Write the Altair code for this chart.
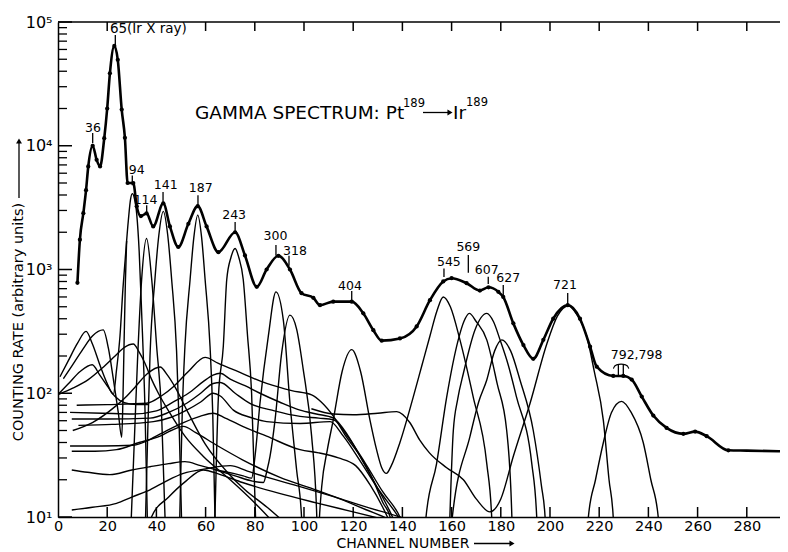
import altair as alt
import pandas as pd

# ---------------- data ----------------
# main measured spectrum (channel, counting rate)
main = [(7.9,780),(8.9,1740),(10.3,2850),(11.4,4370),(12.3,6800),(14.1,10000),(15.7,7700),(17.1,6800),
        (18.8,11500),(20.0,20000),(21.1,38500),(22.9,64000),(24.3,49500),(25.9,19600),(27.2,11600),
        (28.3,5000),(30.6,5000),(32.0,3250),(33.7,2700),(36.0,2840),(38.7,2230),(42.8,3430),(45.5,2230),
        (48.9,1520),(53.0,2340),(56.8,3250),(60.4,2230),(65.2,1380),(72.0,2000),(76.0,1300),(80.8,725),
        (84.8,1000),(89.6,1290),(94.3,1000),(99.0,643),(103.8,590),(106.5,515),(111.9,550),(119.4,550),
        (124.1,443),(128.2,323),(131.6,266),(139.0,277),(145.8,347),(151.2,565),(156.6,800),(160.0,850),
        (166.1,775),(171.5,675),(175.0,718),(179.0,660),(181.0,600),(185.1,367),(189.2,245),(193.2,190),
        (197.3,270),(201.3,400),(207.2,515),(212.2,400),(216.3,238),(219.0,164),(225.7,138),(229.8,138),
        (233.2,129),(237.3,94),(242.0,66),(247.4,52.5),(254.2,47),(259.0,49),(263.7,45),(272.5,34.6),
        (280.0,34.4),(293.5,34)]

# resolved components
cA = [(0.8,136),(4,180),(8,255),(11.4,316),(14,250),(17,170),(20,120),(22.5,98),(23.8,155),(25.2,290),
      (26.4,700),(27.3,1200),(28.6,2500),(29.5,3700),(30.2,4100),(31,3800),(32,2800),(33,1400),(34,450),
      (35.4,69),(36.3,10),(36.8,4)]
cB = [(2.2,131),(6,170),(10,225),(14,290),(18.4,325),(20.5,230),(22.5,130),(24.5,70),(25.9,44),
      (26.4,90),(26.9,280),(27.4,800),(27.9,1700)]
cC = [(0.3,98),(6,110),(12.3,129),(18,160),(23.2,200),(27,235),(30.6,250),(33,215),(35.4,174),(38,130),
      (40.8,100),(45.5,69),(51.6,45),(59,31),(70,20),(80,13),(90,8)]
cD = [(0.5,100),(4,118),(9,150),(13.9,170),(17,140),(20,115),(23,95),(27,84),(32,81),(37,81)]
cE = [(6,50),(14,58),(23.2,78),(28,95),(31.3,112),(36.5,145),(41.5,163),(44.5,140),(47.6,112),(53,69),
      (59.8,39),(69.2,22.6),(76,16.6),(85,12),(95,8)]
c4 = [(7.6,80),(20,81),(36,83),(42,95),(46.9,113),(53,150),(59.8,195),(65,175),(71.3,155),(84.8,120),
      (95,105),(103.1,97),(107,85),(112,65),(117,45),(122.8,31),(128,20),(132.2,12.9),(135,10),(136,8)]
c5 = [(4.9,70),(18,69),(30.6,68),(40,72),(46.9,85),(53,100),(59,124),(63,140),(65.9,145),(70,130),
      (76,115),(82.1,100),(90,85),(98.4,73),(105,68),(112,63),(118,45),(124,28),(130,17),(135,11),(137,9)]
c6 = [(5.6,62),(20,62),(37.4,63),(45,70),(52.3,83),(58,100),(63.1,120),(66,122),(72,100),(78,83),
      (88,72),(98.4,65),(106,63),(112,61),(118,44),(125,27),(132,16),(139,10),(141,8)]
c7 = [(8.3,55),(22,56),(38.8,59),(46,64),(52.3,73),(58,85),(63.1,100),(66,95),(71.3,73),(78,64),
      (84.8,59),(98.4,57),(110.6,59),(116,45),(123,28),(130,17),(137,11),(140,9)]
c8 = [(4.9,37.5),(18,37.5),(30.6,38),(38,43),(44.2,50),(51,58),(57.7,65),(63.1,69),(68,63),(76,53),
      (84.8,45),(98.4,35),(106,33),(114,30),(121,26),(127,18),(132,12),(135,9)]
c9 = [(5.6,34),(15,34),(23.8,35),(33,40),(41.5,45),(46,50),(51,54),(56,48),(64.5,38),(75,29),(90,21),
      (105,16.5),(114.6,14),(125,11.5),(135,9.5),(142,8)]
c300 = [(5.6,24),(12,23),(21.1,22),(30,24),(37.4,25.5),(45,27),(51.6,28),(58,26),(64.5,24),(71.3,22.5),
        (75.3,21.5),(78.7,20.6),(80.1,31),(82.1,83),(85.5,290),(88.6,660),(91.6,390),(94.3,83),(97,24),
        (99,10),(99.5,4)]
c11 = [(5.6,11.4),(14,12),(23.8,12.9),(30,14.5),(37.4,16.6),(44,19.5),(51,22.5),(60,24.5),(70,26),
       (77,23.5),(84.8,21),(98.4,17.6),(112,14.6),(125.5,12),(139,10),(145,9)]
c12 = [(37,8),(38,10),(45,14.5),(52,19.5),(59,24),(66,22),(75,19),(90,15.5),(105,13),(120,11),(133,9.5)]
c318 = [(64,24),(72,21.5),(79,19.5),(83.5,19),(85,24),(86.2,31),(88.2,60),(90.9,210),(94.3,428),
        (97,330),(99.7,155),(103.1,45),(105.2,10),(105.7,4)]
p114 = [(29,4),(29.8,10),(31,40),(32.3,180),(34,830),(36,1780),(38.1,830),(40.1,240),(42.1,69),(43.5,10),(44,4)]
p141 = [(35,4),(35.6,10),(36.5,50),(37.4,200),(39.4,830),(41,1900),(42.8,2950),(44.6,1900),(46.2,830),
        (48.2,220),(49.2,60),(50.2,10),(50.8,4)]
p187 = [(49,4),(49.5,10),(50.5,69),(51.6,240),(53.7,830),(55.2,1800),(56.8,2750),(58.4,1800),(59.8,830),
        (61.8,240),(62.9,69),(63.8,10),(64.3,4)]
p243 = [(63.3,4),(63.8,10),(65.2,93),(67.2,240),(68.6,830),(70.3,1250),(72,1480),(73.5,1250),(75.3,830),
        (77,300),(78.7,100),(80.3,10),(80.8,4)]
c404 = [(105.5,4),(106.3,10),(107.2,17.6),(109.5,35),(111.9,61),(115.5,150),(119.4,225),(123,150),
        (126.8,61),(129.5,35),(131.6,25),(133.5,22.5),(135.5,26),(139,40),(144.4,93),(148,170),(151.2,290),
        (154,460),(156.6,600),(159.5,500),(163.4,270),(168.8,93),(174.3,27),(176.3,10),(176.8,4)]
c569 = [(149,4),(149.6,10),(153.9,27),(158,93),(162.7,270),(165,380),(167.2,442),(170,380),(174.3,270),
        (178.5,120),(182.4,50),(184.5,10),(185,4)]
c607 = [(158.7,4),(159.3,10),(160.7,50),(162.5,90),(164.8,145),(169.5,325),(174.3,442),(177,380),
        (179.7,270),(183,170),(186.4,93),(192.6,27),(194.6,10),(195.2,4)]
c627 = [(159.5,4),(160.3,10),(167.5,45),(171,85),(174.3,128),(177.5,220),(180.4,270),(184,220),
        (187.8,128),(193.2,50),(196.5,18),(198,10),(198.5,4)]
c721 = [(103,75),(112,68),(120,67),(130,69),(137.7,71),(143,58),(147,42),(151,33),(158,25),(164.8,20),
        (170,14),(175.6,11),(180,14),(185.1,31),(191.9,83),(198.7,250),(203,420),(207.5,510),(211,430),
        (214.9,290),(218,150),(221.7,60),(224,20),(225.7,10),(226.2,4)]
c792 = [(215,4),(215.6,10),(218.5,20),(221.7,40),(225,70),(229.1,86),(233,70),(237.9,40),(241,20),(244,10),(244.5,4)]
brace = [(225.8,158),(226.3,172),(231.5,172),(232,158)]

# peak labels
lab_text = ["36","94","114","141","187","243","300","318","404","545","569","607","627","721","792,798"]
lab_ch = [14.2,32.0,35.6,43.8,58.0,71.6,88.4,96.3,118.7,158.9,166.8,174.3,183.0,206.1,235.2]
lab_rate = [13900,6370,3650,4820,4530,2750,1870,1410,738,1156,1530,990,849,750,204]
xray_text = ["65(Ir X ray)"]
xray_ch = [21.1]
xray_rate = [87700]
# small marker strokes under the labels
tick_ch = [14.1,23.3,30.2,36.05,42.7,56.9,72.0,88.6,93.9,119.4,156.9,166.8,174.9,181.0,207.2,227.8,229.8]
tick_top = [12700,78500,5760,3300,4230,3990,2420,1580,1290,670,1020,1310,875,750,646,169,169]
tick_bot = [10500,65200,4790,2800,3440,3240,2010,1290,1070,537,870,940,764,622,507,136,136]

# axes
x_labels = [0,20,40,60,80,100,120,140,160,180,200,220,240,260,280]
x_inner_ticks = [20,40,60,80,100,120,140,160,180,200,220,240,260,280]
x_top_ticks = [20,60,80,100,120,140,160,180,200,220,240,260,280]
y_major = [10,100,1000,10000,100000]
y_minor = [m * 10**k for k in range(1, 5) for m in range(2, 10)]

# ---------------- chart ----------------
W, H = 722, 495
FONT = "DejaVu Sans"
xs = alt.Scale(domain=[0, 293.5], nice=False, zero=False)
ys = alt.Scale(type="log", domain=[10, 100000], nice=False)
xaxis = alt.Axis(values=x_labels, ticks=False, grid=False, labelFontSize=14.5, labelFont=FONT,
                 labelPadding=2, labelColor="black", domainColor="black", domainWidth=1.5,
                 title=None, labelFlush=False, labelOverlap=False)
yexpr = ("datum.value >= 99999 ? '10⁵' : datum.value >= 9999 ? '10⁴' : "
         "datum.value >= 999 ? '10³' : datum.value >= 99 ? '10²' : '10¹'")
yaxis = alt.Axis(values=y_major, labelExpr=yexpr, ticks=False, grid=False, labelFontSize=16,
                 labelFont=FONT, labelPadding=6, labelColor="black", domainColor="black",
                 domainWidth=1.5, title=None)
X = alt.X("ch:Q", scale=xs, axis=xaxis)
Y = alt.Y("rate:Q", scale=ys, axis=yaxis)


def frame(curves):
    rows = []
    for name, pts in curves.items():
        for i, (c, r) in enumerate(pts):
            rows.append({"curve": name, "idx": i, "ch": c, "rate": r})
    return pd.DataFrame(rows)


comp_df = frame({"a": cA, "b": cB, "c": cC, "d": cD, "e": cE, "c4": c4, "c5": c5, "c6": c6, "c7": c7,
                 "c8": c8, "c9": c9, "c300": c300, "c11": c11, "c12": c12, "c318": c318, "p114": p114,
                 "p141": p141, "p187": p187, "p243": p243, "c404": c404, "c569": c569, "c607": c607,
                 "c627": c627, "c721": c721, "c792": c792})
main_df = frame({"main": main})
dots_df = main_df[main_df["ch"] <= 273]
brace_df = frame({"brace": brace})
lab_df = pd.DataFrame({"ch": lab_ch, "rate": lab_rate, "t": lab_text})
xray_df = pd.DataFrame({"ch": xray_ch, "rate": xray_rate, "t": xray_text})
tick_df = pd.DataFrame({"ch": tick_ch, "rate": tick_top, "rate2": tick_bot})
one = pd.DataFrame({"k": [0]})

components = alt.Chart(comp_df).mark_line(interpolate="monotone", clip=True, color="black",
                                          strokeWidth=1.4).encode(x=X, y=Y, detail="curve:N", order="idx:Q")
main_line = alt.Chart(main_df).mark_line(interpolate="monotone", clip=True, color="black",
                                         strokeWidth=2.6).encode(x=X, y=Y, order="idx:Q")
main_dots = alt.Chart(dots_df).mark_circle(size=18, color="black", opacity=1).encode(x=X, y=Y)
brace_line = alt.Chart(brace_df).mark_line(interpolate="basis", color="black",
                                           strokeWidth=1.1).encode(x=X, y=Y, order="idx:Q")
labels = alt.Chart(lab_df).mark_text(font=FONT, fontSize=12.5, color="black", align="center",
                                     baseline="middle").encode(x=X, y=Y, text="t:N")
xray_label = alt.Chart(xray_df).mark_text(font=FONT, fontSize=13.5, color="black", align="left",
                                          baseline="middle").encode(x=X, y=Y, text="t:N")
label_ticks = alt.Chart(tick_df).mark_rule(color="black", strokeWidth=1.3).encode(
    x=X, y=Y, y2="rate2:Q")

# inward axis ticks
bot_ticks = alt.Chart(pd.DataFrame({"ch": x_inner_ticks})).mark_rule(color="black", strokeWidth=1.5).encode(
    x=X, y=alt.value(H), y2=alt.value(H - 10))
top_ticks = alt.Chart(pd.DataFrame({"ch": x_top_ticks})).mark_rule(color="black", strokeWidth=1.5).encode(
    x=X, y=alt.value(0), y2=alt.value(9))
left_major = alt.Chart(pd.DataFrame({"rate": y_major})).mark_rule(color="black", strokeWidth=1.5).encode(
    y=Y, x=alt.value(0), x2=alt.value(14))
left_minor = alt.Chart(pd.DataFrame({"rate": y_minor})).mark_rule(color="black", strokeWidth=1.3).encode(
    y=Y, x=alt.value(0), x2=alt.value(9))
top_line = alt.Chart(one).mark_rule(color="black", strokeWidth=1.5).encode(
    x=alt.value(0), x2=alt.value(W), y=alt.value(0))


def txt(s, x, y, size, align="left", angle=0):
    return alt.Chart(one).mark_text(text=s, font=FONT, fontSize=size, color="black", align=align,
                                    baseline="middle", angle=angle).encode(x=alt.value(x), y=alt.value(y))


title_parts = [
    txt("GAMMA SPECTRUM: Pt", 137, 91, 18.5),
    txt("189", 345, 82, 11.5),
    txt("Ir", 395, 91, 18.5),
    txt("189", 408, 81, 11.5),
    txt("COUNTING RATE (arbitrary units)", -39, 300, 14.5, align="center", angle=270),
    txt("CHANNEL NUMBER", 345, 521.5, 14, align="center"),
]
arrow_lines = [
    alt.Chart(one).mark_rule(color="black", strokeWidth=1.3).encode(
        x=alt.value(365), x2=alt.value(390), y=alt.value(90.5)),
    alt.Chart(one).mark_rule(color="black", strokeWidth=1.3).encode(
        x=alt.value(416), x2=alt.value(452), y=alt.value(521.5)),
    alt.Chart(one).mark_rule(color="black", strokeWidth=1.3).encode(
        x=alt.value(-39), y=alt.value(176), y2=alt.value(121)),
]
arrow_heads = [
    alt.Chart(one).mark_point(shape="triangle-right", filled=True, color="black", size=35, opacity=1).encode(
        x=alt.value(392), y=alt.value(90.5)),
    alt.Chart(one).mark_point(shape="triangle-right", filled=True, color="black", size=35, opacity=1).encode(
        x=alt.value(454), y=alt.value(521.5)),
    alt.Chart(one).mark_point(shape="triangle-up", filled=True, color="black", size=35, opacity=1).encode(
        x=alt.value(-39), y=alt.value(119)),
]

chart = alt.layer(
    components, main_line, main_dots, brace_line, label_ticks, labels, xray_label,
    bot_ticks, top_ticks, left_major, left_minor, top_line,
    *title_parts, *arrow_lines, *arrow_heads
).properties(
    width=W, height=H,
    autosize=alt.AutoSizeParams(type="none"),
    padding={"left": 50, "top": 14, "right": 0, "bottom": 35},
    background="white",
).configure_view(stroke=None)

chart.save("out.html", embed_options={"renderer": "svg", "actions": False})
